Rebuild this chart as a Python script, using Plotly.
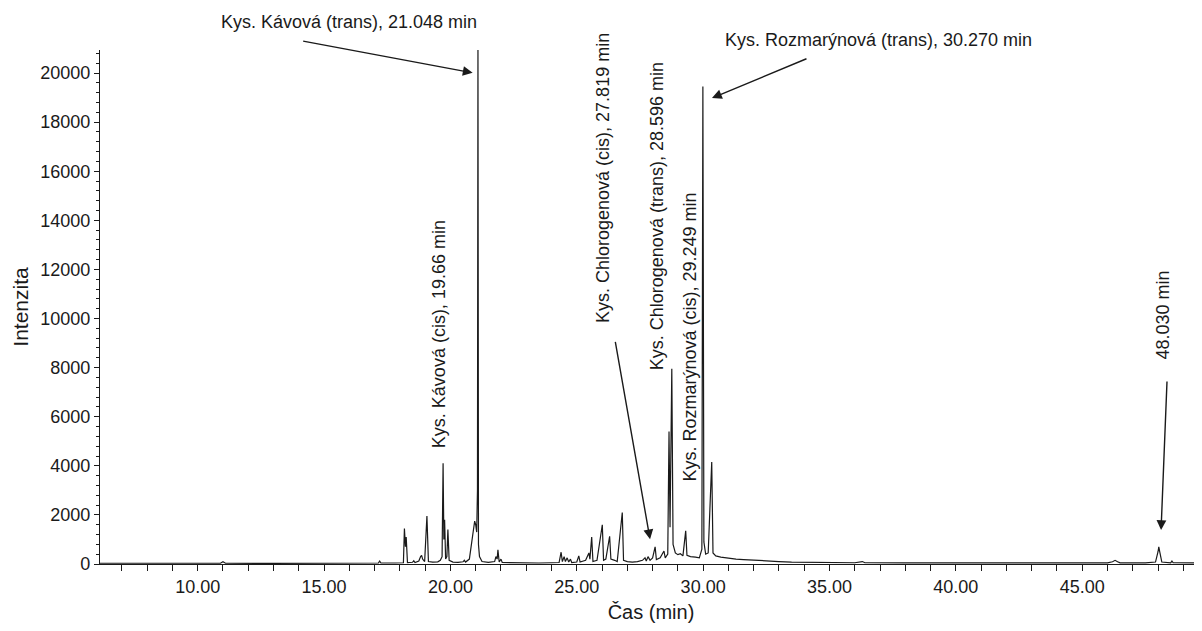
import plotly.graph_objects as go

# Retention time (min) and intensity
time_min = [
    6.10, 8.00, 10.90, 11.00, 11.10, 13.00, 15.00, 17.00, 17.15, 17.20, 17.25, 17.80, 18.10,
    18.14, 18.18, 18.22, 18.25, 18.30, 18.50, 18.55, 18.60, 18.75, 18.82, 18.86, 18.90, 18.98,
    19.07, 19.13, 19.30, 19.50, 19.60, 19.67, 19.71, 19.74, 19.77, 19.81, 19.86, 19.90, 19.95,
    20.10, 20.30, 20.50, 20.55, 20.60, 20.75, 20.88, 20.96, 21.00, 21.04, 21.07, 21.09, 21.11,
    21.15, 21.25, 21.50, 21.75, 21.80, 21.85, 21.88, 21.93, 22.00, 22.05, 22.40, 23.00, 23.50,
    24.00, 24.30, 24.38, 24.43, 24.50, 24.55, 24.62, 24.68, 24.75, 24.80, 25.00, 25.08, 25.13,
    25.35, 25.48, 25.52, 25.59, 25.64, 25.80, 26.01, 26.06, 26.15, 26.30, 26.35, 26.50, 26.60,
    26.80, 26.85, 27.00, 27.20, 27.40, 27.60, 27.70, 27.75, 27.82, 27.90, 28.00, 28.10, 28.15,
    28.30, 28.45, 28.50, 28.60, 28.65, 28.69, 28.76, 28.81, 28.90, 29.00, 29.10, 29.20, 29.31,
    29.36, 29.50, 29.70, 29.85, 29.95, 29.99, 30.03, 30.10, 30.20, 30.34, 30.39, 30.50, 30.70,
    31.00, 31.30, 31.60, 32.00, 32.50, 33.00, 33.50, 34.00, 35.00, 36.00, 36.30, 36.40, 38.00,
    40.00, 42.00, 44.00, 46.00, 46.20, 46.30, 46.40, 46.50, 47.50, 47.90, 48.00, 48.03, 48.07,
    48.15, 48.50, 48.55, 48.60, 49.70,
]
intensity = [
    30, 25, 30, 90, 30, 25, 30, 35, 40, 120, 40, 40, 50,
    50, 1450, 700, 1100, 60, 70, 130, 60, 120, 300, 350, 200, 100,
    1950, 100, 80, 90, 150, 300, 4100, 1000, 1800, 200, 300, 1400, 150,
    80, 70, 90, 150, 80, 200, 1200, 1750, 1600, 1300, 3000, 21200, 800,
    300, 100, 70, 100, 300, 200, 580, 80, 200, 60, 50, 40, 40,
    50, 60, 480, 100, 300, 100, 250, 80, 200, 60, 80, 330, 80,
    150, 450, 200, 1100, 100, 150, 1600, 150, 200, 1130, 200, 150, 100,
    2100, 150, 100, 80, 100, 150, 250, 120, 300, 150, 250, 700, 180,
    250, 530, 250, 400, 5400, 1500, 7950, 800, 450, 380, 420, 330, 1350,
    350, 300, 280, 250, 600, 19450, 900, 400, 450, 4150, 450, 330, 280,
    230, 200, 180, 150, 120, 100, 80, 70, 60, 50, 100, 50, 45,
    40, 40, 40, 45, 90, 150, 90, 45, 45, 80, 500, 700, 480,
    80, 50, 120, 50, 40,
]

x_tick_vals = [10, 15, 20, 25, 30, 35, 40, 45]
x_tick_text = ["10.00", "15.00", "20.00", "25.00", "30.00", "35.00", "40.00", "45.00"]
y_tick_vals = [0, 2000, 4000, 6000, 8000, 10000, 12000, 14000, 16000, 18000, 20000]
y_tick_text = ["0", "2000", "4000", "6000", "8000", "10000", "12000", "14000", "16000", "18000", "20000"]

# Peak labels (text, x, y)
label_texts = [
    "Kys. Kávová (cis), 19.66 min",
    "Kys. Chlorogenová (cis), 27.819 min",
    "Kys. Chlorogenová (trans), 28.596 min",
    "Kys. Rozmarýnová (cis), 29.249 min",
    "48.030 min",
]
label_x = [19.55, 26.04, 28.18, 29.48, 48.20]
label_y = [4640, 9740, 7820, 3300, 8230]

# Arrows: tip in data coordinates, tail offset in pixels
arrow_x = [20.88, 27.90, 30.35, 48.12]
arrow_y = [20010, 1006, 18980, 1385]
arrow_ax = [-171, -35, 96, 6]
arrow_ay = [-32, -199, -40, -150]

FONT = "Liberation Sans, Arial, sans-serif"
INK = "#1a1a1a"

fig = go.Figure()
fig.add_trace(go.Scatter(
    x=time_min, y=intensity, mode="lines",
    line=dict(color=INK, width=1.2), showlegend=False, hoverinfo="x+y",
))

annotations = []
for t, x, y in zip(label_texts, label_x, label_y):
    annotations.append(dict(
        text=t, x=x, y=y, xref="x", yref="y", showarrow=False,
        textangle=-90, xanchor="center", yanchor="bottom",
        font=dict(family=FONT, size=18, color=INK),
    ))
for x, y, ax, ay in zip(arrow_x, arrow_y, arrow_ax, arrow_ay):
    annotations.append(dict(
        text="", x=x, y=y, xref="x", yref="y", ax=ax, ay=ay,
        showarrow=True, arrowhead=2, arrowsize=1.4, arrowwidth=1.4,
        arrowcolor=INK, standoff=0,
    ))
annotations.append(dict(
    text="Kys. Kávová (trans), 21.048 min", x=15.99, y=1.0545,
    xref="x", yref="paper", showarrow=False, xanchor="center", yanchor="middle",
    font=dict(family=FONT, size=18, color=INK),
))
annotations.append(dict(
    text="Kys. Rozmarýnová (trans), 30.270 min", x=36.92, y=1.019,
    xref="x", yref="paper", showarrow=False, xanchor="center", yanchor="middle",
    font=dict(family=FONT, size=18, color=INK),
))

# The page body adds an 8 px offset; the figure fills the rest of the window.
fig.update_layout(
    width=1194, height=623,
    margin=dict(l=92, r=0, t=42, b=67),
    paper_bgcolor="white", plot_bgcolor="white",
    font=dict(family=FONT, size=18, color=INK),
    annotations=annotations,
    xaxis=dict(
        range=[6.134, 49.74], tickvals=x_tick_vals, ticktext=x_tick_text,
        automargin=False,
        showgrid=False, zeroline=False, showline=True, linecolor=INK, linewidth=1.2,
        ticks="outside", ticklen=6, tickcolor=INK, tickwidth=1,
        minor=dict(dtick=1, tick0=0, ticks="outside", ticklen=6, tickcolor=INK, tickwidth=1),
        tickfont=dict(family=FONT, size=18, color=INK),
        title=dict(text="Čas (min)", font=dict(family=FONT, size=20, color=INK), standoff=9),
    ),
    yaxis=dict(
        range=[0, 20940], tickvals=y_tick_vals, ticktext=y_tick_text,
        automargin=False,
        showgrid=False, zeroline=False, showline=True, linecolor=INK, linewidth=1.2,
        ticks="outside", ticklen=5, tickcolor=INK, tickwidth=1,
        minor=dict(dtick=400, tick0=0, ticks="outside", ticklen=3, tickcolor=INK, tickwidth=1),
        tickfont=dict(family=FONT, size=18, color=INK),
        title=dict(text="Intenzita", font=dict(family=FONT, size=21, color=INK), standoff=5),
    ),
)

fig.write_html("out.html")
